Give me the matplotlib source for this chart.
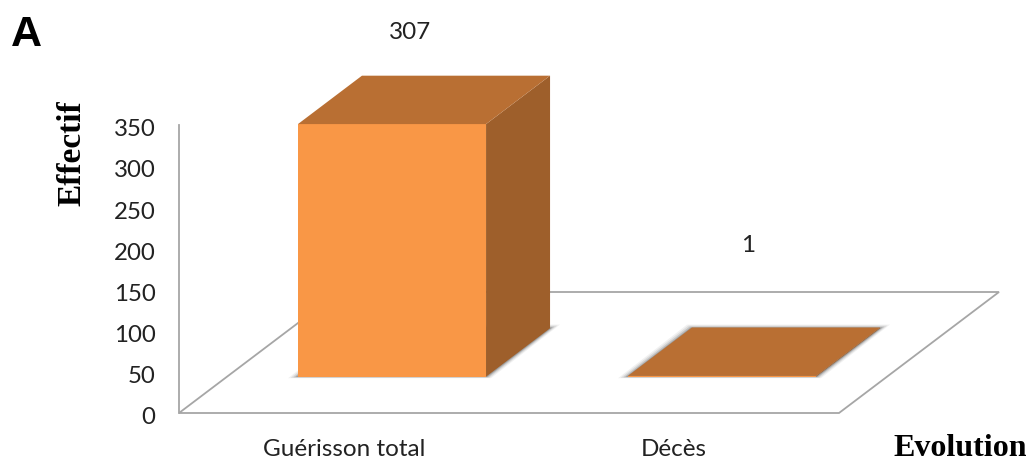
import numpy as np
import matplotlib
matplotlib.use('Agg')
import matplotlib.pyplot as plt
from matplotlib.patches import Polygon
from matplotlib.transforms import ScaledTranslation

categories = ['Guérisson total', 'Décès']
values = [307, 1]
y_ticks = [0, 50, 100, 150, 200, 250, 300, 350]

W, H = 1034, 462
fig = plt.figure(figsize=(W / 100, H / 100), dpi=100)
plt.rcParams['font.family'] = ['Lato', 'DejaVu Sans']

# axes box is the front of the floor and the wall, in pixels
left, right, top, bottom = 179, 839, 125, 413
ax = fig.add_axes([left / W, 1 - bottom / H, (right - left) / W, (bottom - top) / H])
ax.set_xlim(0, len(categories))
ax.set_ylim(0, 350)

# going one full floor depth back moves the point this much in data units
depth_dx = 160 / 330
depth_dy = 121 * 350 / 288

grey = '#a6a6a6'


def project(x, y, d):
    return (x + d * depth_dx, y + d * depth_dy)


# floor
floor = [project(0, 0, 0), project(2, 0, 0), project(2, 0, 1), project(0, 0, 1)]
ax.add_patch(Polygon(floor, closed=True, facecolor='white', edgecolor=grey,
                     linewidth=1.3, clip_on=False, zorder=1))

bar_w = 0.57
d0, d1 = 0.3, 0.7
front_col = '#f99746'
top_col = '#b96f33'
side_col = '#9e5f2b'

for i, val in enumerate(values):
    x0 = i + 0.5 - bar_w / 2
    x1 = i + 0.5 + bar_w / 2

    # soft shadow around the foot of the bar
    foot = np.array([project(x0, 0, d0), project(x1, 0, d0),
                     project(x1, 0, d1), project(x0, 0, d1)])
    for grow, alpha in [(0.03, 0.08), (0.022, 0.12), (0.014, 0.2), (0.007, 0.3)]:
        g = foot + np.array([[-grow, -grow * 60], [grow * 0.5, -grow * 60],
                             [grow, grow * 150], [-grow * 0.5, grow * 150]])
        ax.add_patch(Polygon(g, closed=True, facecolor='#4d4d4d', edgecolor='none',
                             alpha=alpha, clip_on=False, zorder=2))

    # the three visible faces
    ax.add_patch(Polygon([project(x0, 0, d0), project(x1, 0, d0),
                          project(x1, val, d0), project(x0, val, d0)],
                         closed=True, facecolor=front_col, edgecolor='none',
                         clip_on=False, zorder=3))
    ax.add_patch(Polygon([project(x1, 0, d0), project(x1, 0, d1),
                          project(x1, val, d1), project(x1, val, d0)],
                         closed=True, facecolor=side_col, edgecolor='none',
                         clip_on=False, zorder=3))
    ax.add_patch(Polygon([project(x0, val, d0), project(x1, val, d0),
                          project(x1, val, d1), project(x0, val, d1)],
                         closed=True, facecolor=top_col, edgecolor='none',
                         clip_on=False, zorder=4))

# data labels
label_offsets = [(18, 92), (26, 130)]
for i, val in enumerate(values):
    off = label_offsets[i]
    ax.annotate(str(val), xy=project(i + 0.5, val, d0), xytext=(off[0] * 0.72, off[1] * 0.72),
                textcoords='offset points', ha='center', va='center',
                fontsize=17.5, color='#222222', annotation_clip=False, zorder=5)

for s in ['top', 'right']:
    ax.spines[s].set_visible(False)
ax.spines['bottom'].set_visible(False)
ax.spines['left'].set_color(grey)
ax.spines['left'].set_linewidth(1.3)
ax.patch.set_alpha(0)

ax.set_yticks(y_ticks)
ax.set_xticks([i + 0.5 for i in range(len(categories))])
ax.set_xticklabels(categories)
ax.tick_params(axis='y', length=0, pad=17, labelsize=17.3, labelcolor='#222222')
ax.tick_params(axis='x', length=0, pad=18.5, labelsize=17.5, labelcolor='#222222')

# y labels sit a little below their tick height in the original
shift = ScaledTranslation(0, -2 / 72, fig.dpi_scale_trans)
for lab in ax.get_yticklabels():
    lab.set_transform(lab.get_transform() + shift)

serif = {'family': 'Liberation Serif', 'fontweight': 'bold', 'color': 'black'}
fig.text(72 / W, 1 - 153 / H, 'Effectif', rotation=90, ha='center', va='center', fontsize=24, **serif)
fig.text(960 / W, 1 - 449 / H, 'Evolution', ha='center', va='center', fontsize=23, **serif)
fig.text(26 / W, 1 - 35 / H, 'A', ha='center', va='center', fontsize=31,
         family='Liberation Sans', fontweight='bold', color='black')

fig.savefig('out.png', dpi=100, facecolor='white')
